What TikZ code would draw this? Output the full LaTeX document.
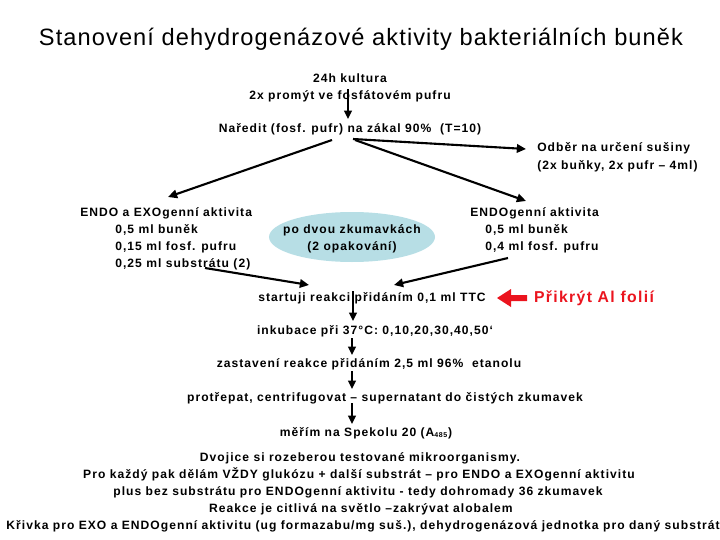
\documentclass[tikz,border=0pt]{standalone}
\usepackage{fontspec}
\setmainfont{Liberation Sans}
\newfontfamily\bodyfont[LetterSpace=8.5]{Liberation Sans}
\newfontfamily\titlefont[LetterSpace=4.6]{Liberation Sans}
\usetikzlibrary{arrows.meta,shapes.geometric}
\definecolor{ellfill}{RGB}{183,222,229}
\definecolor{redtxt}{RGB}{235,20,30}
\tikzset{
  txt/.style={inner sep=0pt, anchor=base, font=\bodyfont\fontsize{8.6}{10}\selectfont\bfseries},
  txtw/.style={txt, anchor=base west},
  arr/.style={line width=1.5pt, -{Triangle[length=6.5pt,width=6pt]}},
  varr/.style={line width=1.3pt, -{Triangle[length=6pt,width=5.5pt]}},
}
\begin{document}
\begin{tikzpicture}[x=0.25mm,y=-0.25mm]
\useasboundingbox (0,0) rectangle (720,540);
% title
\node[inner sep=0pt, anchor=base, font=\titlefont\fontsize{16.8}{18}\selectfont] (title) at (361,45) {Stanovení dehydrogenázové aktivity bakteriálních buněk};
% top
\node[txt] (k1) at (350,82) {24h kultura};
\node[txt] (k2) at (350,99) {2x promýt ve fosfátovém pufru};
\node[txt] (n1) at (350,132) {Naředit (fosf. pufr) na zákal 90\%\ \ (T=10)};
\node[txtw] (o1) at (537,151) {Odběr na určení sušiny};
\node[txtw] (o2) at (537,169) {(2x buňky, 2x pufr – 4ml)};
% left block
\node[txtw] (l1) at (80,216) {ENDO a EXOgenní aktivita};
\node[txtw] (l2) at (115,233) {0,5 ml buněk};
\node[txtw] (l3) at (115,250) {0,15 ml fosf. pufru};
\node[txtw] (l4) at (115,267) {0,25 ml substrátu (2)};
% ellipse
\node[ellipse, draw=none, fill=ellfill, inner sep=0pt, minimum width=41.5mm, minimum height=12.5mm] (ell) at (352,237) {};
\node[txt] (e1) at (352,233) {po dvou zkumavkách};
\node[txt] (e2) at (352,250) {(2 opakování)};
% right block
\node[txtw] (r1) at (470,216) {ENDOgenní aktivita};
\node[txtw] (r2) at (485,233) {0,5 ml buněk};
\node[txtw] (r3) at (485,250) {0,4 ml fosf. pufru};
% chain
\node[txt] (s1) at (372,301) {startuji reakci přidáním 0,1 ml TTC};
\node[txt, font=\bodyfont\fontsize{11.2}{13}\selectfont\bfseries, text=redtxt] (al) at (594,302) {Přikrýt Al folií};
\node[txt] (s2) at (375,334) {inkubace při 37°C: 0,10,20,30,40,50‘};
\node[txt] (s3) at (369,367) {zastavení reakce přidáním 2,5 ml 96\%\ \ etanolu};
\node[txt] (s4) at (385,401) {protřepat, centrifugovat – supernatant do čistých zkumavek};
\node[txt] (s5) at (366,436) {měřím na Spekolu 20 (A\textsubscript{\fontsize{5}{6}\selectfont 485})};
% bottom text
\node[txt] (b1) at (360,461) {Dvojice si rozeberou testované mikroorganismy.};
\node[txt] (b2) at (359,478) {Pro každý pak dělám VŽDY glukózu + další substrát – pro ENDO a EXOgenní aktivitu};
\node[txt] (b3) at (358,495) {plus bez substrátu pro ENDOgenní aktivitu - tedy dohromady 36 zkumavek};
\node[txt] (b4) at (361,512) {Reakce je citlivá na světlo –zakrývat alobalem};
\node[txt] (b5) at (363,529) {Křivka pro EXO a ENDOgenní aktivitu (ug formazabu/mg suš.), dehydrogenázová jednotka pro daný substrát};
% connector coordinates
\coordinate (k2a) at (348,89);
\coordinate (n1a) at (348,119);
\coordinate (n1l) at (332,140);
\coordinate (l1a) at (168,197);
\coordinate (n1r) at (353,139);
\coordinate (o1a) at (526,149);
\coordinate (n1s) at (355,140);
\coordinate (r1a) at (526,201);
\coordinate (l4a) at (205,268);
\coordinate (s1l) at (309,285);
\coordinate (r3a) at (508,258);
\coordinate (s1r) at (394,285);
\coordinate (s1d) at (353,291);
\coordinate (s2u) at (353,321);
\coordinate (s2d) at (352,338);
\coordinate (s3u) at (352,355);
\coordinate (s3d) at (352,371);
\coordinate (s4u) at (352,389);
\coordinate (s4d) at (352,403);
\coordinate (s5u) at (352,424);
% arrows
\draw[varr] (k2a) -- (n1a);
\draw[arr] (n1l) -- (l1a);
\draw[arr] (n1r) -- (o1a);
\draw[arr] (n1s) -- (r1a);
\draw[arr] (l4a) -- (s1l);
\draw[arr] (r3a) -- (s1r);
\draw[varr] (s1d) -- (s2u);
\draw[varr] (s2d) -- (s3u);
\draw[varr] (s3d) -- (s4u);
\draw[varr] (s4d) -- (s5u);
% red block arrow
\fill[redtxt] (497,298) -- (511,289) -- (511,295) -- (527,295) -- (527,301) -- (511,301) -- (511,307) -- cycle;
\end{tikzpicture}
\end{document}
